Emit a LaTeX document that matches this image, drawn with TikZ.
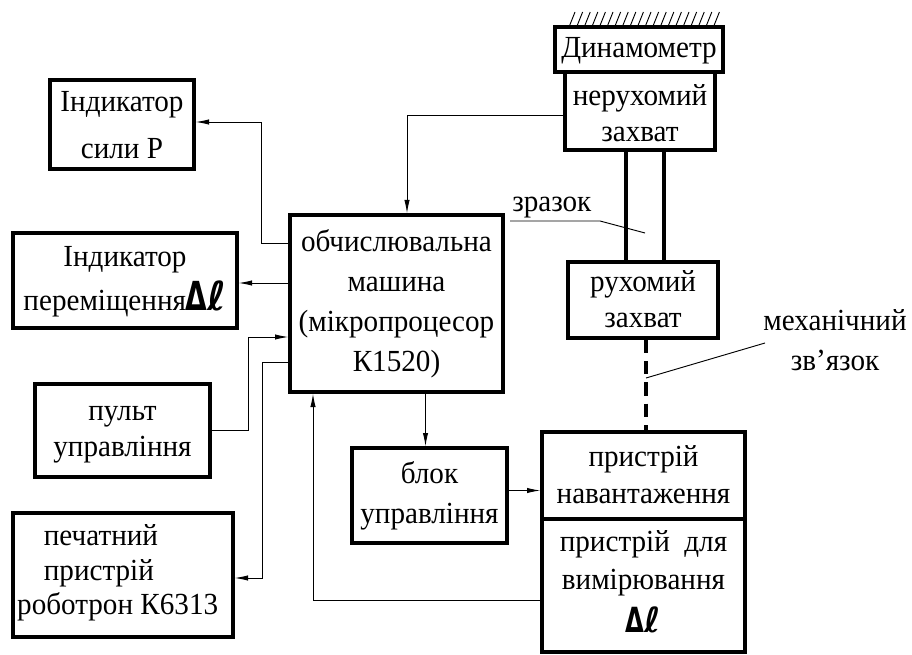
\documentclass[tikz,border=0pt]{standalone}
\usepackage{fontspec}
\setmainfont{Liberation Serif}[FakeStretch=0.95]
\newfontfamily\symfont{DejaVu Sans}
\usetikzlibrary{arrows.meta,fit,calc}
\newcommand{\dl}[1]{{\symfont\bfseries\fontsize{#1}{#1}\selectfont\scalebox{0.7}[1]{Δ}ℓ}}
\tikzset{
  box/.style={draw, line width=2.5pt, inner sep=0pt},
  txt/.style={inner sep=0pt, align=center, font=\fontsize{23}{30}\selectfont},
  conn/.style={line width=0.7pt},
  arr/.style={conn, -{Latex[length=10pt,width=4pt]}},
  rod/.style={line width=2.5pt},
  mech/.style={line width=2.6pt, dash pattern=on 10pt off 6pt}
}
\begin{document}
\begin{tikzpicture}[x=0.75pt,y=-0.75pt]
\useasboundingbox (0,0) rectangle (912,655);
% boxes
\node[box, fit={(50,80)(194,169)},
  label={[txt, font=\fontsize{23}{35}\selectfont, yshift=-0.5pt]center:Індикатор\\сили Р}] (indP) {};
\node[box, fit={(13,233)(237,328)},
  label={[txt, font=\fontsize{23}{33}\selectfont, yshift=-1pt]center:Індикатор\\переміщення\dl{30}}] (indD) {};
\node[box, fit={(290,215)(503,392)},
  label={[txt, yshift=0pt]center:обчислювальна\\машина\\(мікропроцесор\\К1520)}] (comp) {};
\node[box, fit={(35,384)(210,477)},
  label={[txt, font=\fontsize{23}{27}\selectfont, yshift=-3pt]center:пульт\\управління}] (pult) {};
\node[box, fit={(13,513)(233,637)},
  label={[txt, align=left, font=\fontsize{23}{26}\selectfont, yshift=1.5pt, xshift=-4pt]center:\hspace*{20pt}печатний\\\hspace*{20pt}пристрій\\роботрон К6313}] (print) {};
\node[box, fit={(352,448)(507,543)},
  label={[txt, yshift=0pt]center:блок\\управління}] (blok) {};
\node[box, fit={(542,432)(745,519)},
  label={[txt, font=\fontsize{23}{28}\selectfont, yshift=0.5pt]center:пристрій\\навантаження}] (load) {};
\node[box, fit={(542,519)(745,652)},
  label={[txt, font=\fontsize{23}{29}\selectfont, yshift=3pt]center:пристрій\ \ для\\вимірювання\\[3pt]\dl{26}}] (meas) {};
\node[box, fit={(555,27)(723,72)},
  label={[txt, yshift=-1pt]center:Динамометр}] (dyn) {};
\node[box, fit={(565,72)(715,150)},
  label={[txt, font=\fontsize{23}{27}\selectfont, yshift=-1.3pt]center:нерухомий\\захват}] (fix) {};
\node[box, fit={(568,262)(718,338)},
  label={[txt, font=\fontsize{23}{27}\selectfont, yshift=0.5pt]center:рухомий\\захват}] (mov) {};
% hatching above dynamometer
\foreach \hx in {569,576.6,...,716} {\draw[conn] (\hx,27) -- (\hx+6,12);}
% rods (specimen)
\draw[rod] ($(fix.south)+(-14,0)$) -- ($(mov.north)+(-17,0)$);
\draw[rod] ($(fix.south)+(24,0)$) -- ($(mov.north)+(21,0)$);
% mechanical link
\draw[mech] ($(mov.south)+(3,0)$) -- ($(load.north)+(2.5,0)$);
% connectors
\draw[arr] ($(fix.west)+(0,4)$) -| ($(comp.north)+(10.5,0)$);
\draw[arr] ($(comp.west)+(0,-60.5)$) -- ++(-27,0) |- ($(indP.east)+(0,-2.5)$);
\draw[arr] ($(comp.west)+(0,-20.5)$) -- ($(indD.east)+(0,2.5)$);
\draw[arr] (pult.east) -- ++(37,0) |- ($(comp.west)+(0,33.5)$);
\draw[arr] ($(comp.west)+(0,58.5)$) -- ++(-26,0) |- ($(print.east)+(0,3)$);
\draw[arr] ($(comp.south)+(29,0)$) -- ($(blok.north)+(-4,0)$);
\draw[arr] ($(blok.east)+(0,-5)$) -- ($(load.west)+(0,15)$);
\draw[arr] ($(meas.west)+(0,14.5)$) -| ($(comp.south)+(-83.5,0)$);
% labels
\node[txt, anchor=south west] (zr) at (512,218) {зразок};
\coordinate (zrEnd) at (645,233);
\draw[conn] ($(zr.south west)+(-2,3)$) -- ++(90,0) -- (zrEnd);
\node[txt] (mz) at (835,340) {механічний\\зв’язок};
\coordinate (mzStart) at (765,343);
\coordinate (mzEnd) at (646,378);
\draw[conn] (mzStart) -- (mzEnd);
\end{tikzpicture}
\end{document}
